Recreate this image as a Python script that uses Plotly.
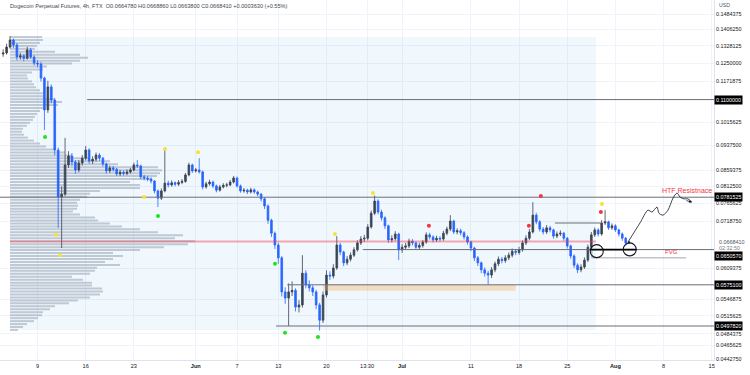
import math
import numpy as np
import pandas as pd
import plotly.graph_objects as go

# ---------------- data ----------------
candle_start = "2022-05-04 00:00"   # 12h candles
opens = [0.1290,0.1295,0.1322,0.1355,0.1332,0.1277,0.1282,0.1271,0.1309,0.1277,
 0.1250,0.1246,0.1186,0.1061,0.1150,0.1098,0.0922,0.0782,0.0790,0.0875,
 0.0903,0.0884,0.0860,0.0881,0.0896,0.0922,0.0887,0.0893,0.0906,0.0896,
 0.0878,0.0857,0.0866,0.0862,0.0848,0.0853,0.0849,0.0854,0.0860,0.0875,
 0.0872,0.0839,0.0836,0.0833,0.0827,0.0799,0.0779,0.0799,0.0821,0.0816,
 0.0822,0.0818,0.0823,0.0826,0.0845,0.0875,0.0857,0.0860,0.0854,0.0810,
 0.0819,0.0824,0.0813,0.0801,0.0810,0.0815,0.0816,0.0824,0.0836,0.0813,
 0.0799,0.0801,0.0796,0.0802,0.0796,0.0790,0.0777,0.0758,0.0721,0.0689,
 0.0661,0.0632,0.0561,0.0549,0.0561,0.0564,0.0532,0.0536,0.0599,0.0575,
 0.0569,0.0561,0.0536,0.0508,0.0555,0.0595,0.0593,0.0610,0.0661,0.0645,
 0.0621,0.0629,0.0638,0.0650,0.0666,0.0675,0.0677,0.0704,0.0739,0.0771,
 0.0742,0.0727,0.0707,0.0673,0.0676,0.0687,0.0650,0.0656,0.0659,0.0670,
 0.0666,0.0656,0.0660,0.0668,0.0685,0.0680,0.0673,0.0677,0.0675,0.0689,
 0.0699,0.0719,0.0692,0.0695,0.0690,0.0680,0.0668,0.0654,0.0632,0.0621,
 0.0606,0.0599,0.0595,0.0606,0.0619,0.0629,0.0626,0.0632,0.0638,0.0647,
 0.0644,0.0650,0.0666,0.0677,0.0692,0.0734,0.0717,0.0699,0.0692,0.0702,
 0.0697,0.0682,0.0687,0.0689,0.0677,0.0659,0.0636,0.0616,0.0606,0.0612,
 0.0627,0.0656,0.0685,0.0697,0.0687,0.0714,0.0717,0.0702,0.0707,0.0697,
 0.0687,0.0677,0.0666]
highs = [0.1312,0.1338,0.1374,0.1362,0.1340,0.1296,0.1290,0.1323,0.1318,0.1285,
 0.1262,0.1255,0.1192,0.1175,0.1160,0.1105,0.0930,0.0812,0.0962,0.0918,
 0.0912,0.0890,0.0890,0.0906,0.0935,0.0928,0.0902,0.0914,0.0912,0.0900,
 0.0882,0.0873,0.0872,0.0866,0.0860,0.0858,0.0861,0.0866,0.0882,0.0890,
 0.0876,0.0845,0.0842,0.0838,0.0830,0.0803,0.0806,0.0922,0.0828,0.0829,
 0.0826,0.0830,0.0833,0.0851,0.0882,0.0879,0.0866,0.0896,0.0858,0.0825,
 0.0831,0.0828,0.0817,0.0816,0.0821,0.0822,0.0830,0.0842,0.0840,0.0817,
 0.0807,0.0805,0.0808,0.0806,0.0800,0.0793,0.0781,0.0762,0.0725,0.0693,
 0.0666,0.0636,0.0570,0.0578,0.0582,0.0568,0.0545,0.0638,0.0605,0.0584,
 0.0574,0.0565,0.0540,0.0562,0.0605,0.0603,0.0618,0.0682,0.0666,0.0648,
 0.0636,0.0644,0.0656,0.0672,0.0682,0.0685,0.0711,0.0746,0.0786,0.0776,
 0.0748,0.0731,0.0710,0.0684,0.0694,0.0690,0.0663,0.0666,0.0676,0.0675,
 0.0669,0.0666,0.0673,0.0691,0.0690,0.0684,0.0683,0.0682,0.0695,0.0705,
 0.0734,0.0722,0.0701,0.0700,0.0694,0.0684,0.0671,0.0657,0.0636,0.0624,
 0.0611,0.0604,0.0612,0.0624,0.0635,0.0634,0.0638,0.0644,0.0653,0.0652,
 0.0657,0.0672,0.0684,0.0699,0.0768,0.0740,0.0721,0.0704,0.0709,0.0707,
 0.0700,0.0693,0.0696,0.0692,0.0680,0.0662,0.0640,0.0620,0.0618,0.0633,
 0.0662,0.0692,0.0703,0.0701,0.0721,0.0747,0.0720,0.0713,0.0711,0.0700,
 0.0691,0.0680,0.06689]
lows = [0.1278,0.1288,0.1315,0.1318,0.1262,0.1265,0.1258,0.1265,0.1268,0.1240,
 0.1232,0.1172,0.0989,0.1050,0.1085,0.0905,0.0702,0.0654,0.0785,0.0866,
 0.0872,0.0848,0.0853,0.0873,0.0889,0.0879,0.0878,0.0886,0.0888,0.0870,
 0.0849,0.0851,0.0855,0.0842,0.0842,0.0843,0.0844,0.0849,0.0856,0.0866,
 0.0832,0.0829,0.0826,0.0820,0.0792,0.0755,0.0774,0.0795,0.0809,0.0811,
 0.0812,0.0813,0.0818,0.0822,0.0841,0.0851,0.0852,0.0849,0.0803,0.0805,
 0.0814,0.0807,0.0795,0.0797,0.0806,0.0809,0.0812,0.0820,0.0808,0.0794,
 0.0794,0.0790,0.0792,0.0791,0.0784,0.0770,0.0750,0.0712,0.0680,0.0652,
 0.0619,0.0552,0.0538,0.04978,0.0553,0.0524,0.0522,0.0531,0.0568,0.0562,
 0.0553,0.0528,0.0490,0.0503,0.0550,0.0585,0.0588,0.0606,0.0638,0.0614,
 0.0616,0.0624,0.0634,0.0646,0.0661,0.0668,0.0672,0.0700,0.0734,0.0736,
 0.0720,0.0699,0.0666,0.0667,0.0671,0.0627,0.0643,0.0650,0.0654,0.0660,
 0.0650,0.0650,0.0655,0.0664,0.0674,0.0667,0.0668,0.0669,0.0671,0.0684,
 0.0694,0.0687,0.0686,0.0684,0.0674,0.0662,0.0647,0.0625,0.0614,0.0599,
 0.0592,0.0575,0.0589,0.0601,0.0614,0.0620,0.0621,0.0627,0.0633,0.0638,
 0.0639,0.0646,0.0661,0.0672,0.0688,0.0711,0.0693,0.0686,0.0687,0.0691,
 0.0676,0.0677,0.0682,0.0671,0.0653,0.0630,0.0610,0.0599,0.0601,0.0608,
 0.0623,0.0652,0.0680,0.0681,0.0683,0.0709,0.0697,0.0697,0.0692,0.0681,
 0.0671,0.0660,0.06638]
closes = [0.1295,0.1322,0.1355,0.1332,0.1277,0.1282,0.1271,0.1309,0.1277,0.1250,
 0.1246,0.1186,0.1061,0.1150,0.1098,0.0922,0.0782,0.0790,0.0875,0.0903,
 0.0884,0.0860,0.0881,0.0896,0.0922,0.0887,0.0893,0.0906,0.0896,0.0878,
 0.0857,0.0866,0.0862,0.0848,0.0853,0.0849,0.0854,0.0860,0.0875,0.0872,
 0.0839,0.0836,0.0833,0.0827,0.0799,0.0779,0.0799,0.0821,0.0816,0.0822,
 0.0818,0.0823,0.0826,0.0845,0.0875,0.0857,0.0860,0.0854,0.0810,0.0819,
 0.0824,0.0813,0.0801,0.0810,0.0815,0.0816,0.0824,0.0836,0.0813,0.0799,
 0.0801,0.0796,0.0802,0.0796,0.0790,0.0777,0.0758,0.0721,0.0689,0.0661,
 0.0632,0.0561,0.0549,0.0561,0.0564,0.0532,0.0536,0.0599,0.0575,0.0569,
 0.0561,0.0536,0.0508,0.0555,0.0595,0.0593,0.0610,0.0661,0.0645,0.0621,
 0.0629,0.0638,0.0650,0.0666,0.0675,0.0677,0.0704,0.0739,0.0771,0.0742,
 0.0727,0.0707,0.0673,0.0676,0.0687,0.0650,0.0656,0.0659,0.0670,0.0666,
 0.0656,0.0660,0.0668,0.0685,0.0680,0.0673,0.0677,0.0675,0.0689,0.0699,
 0.0719,0.0692,0.0695,0.0690,0.0680,0.0668,0.0654,0.0632,0.0621,0.0606,
 0.0599,0.0595,0.0606,0.0619,0.0629,0.0626,0.0632,0.0638,0.0647,0.0644,
 0.0650,0.0666,0.0677,0.0692,0.0734,0.0717,0.0699,0.0692,0.0702,0.0697,
 0.0682,0.0687,0.0689,0.0677,0.0659,0.0636,0.0616,0.0606,0.0612,0.0627,
 0.0656,0.0685,0.0697,0.0687,0.0714,0.0717,0.0702,0.0707,0.0697,0.0687,
 0.0677,0.0666,0.06684]

# visible volume profile (top row -> bottom row)
vp_top_price = 0.13696
vp_bottom_price = 0.04909
vp_volumes = [32,33,30,27,25,45,70,78,70,62,
 37,33,22,17,18,22,24,26,30,33,
 33,45,52,48,35,30,27,25,23,20,
 17,13,12,14,18,24,30,36,45,55,
 62,80,100,108,148,152,150,147,140,120,
 130,130,90,80,77,70,67,68,67,63,
 70,85,88,100,112,130,148,173,165,185,
 178,154,130,103,113,103,95,110,87,85,
 80,62,73,82,82,92,93,90,80,68,
 59,45,40,33,32,28,24,17,13,8]
poc_price = 0.0669
vp_range_dates = ["2022-05-05 00:00", "2022-07-29 04:00"]

# key levels
level_prices = [0.11, 0.0781525, 0.065057, 0.05751, 0.049782]
level_labels = ["0.1100000", "0.0781525", "0.0650570", "0.0575100", "0.0497820"]
level_starts = ["2022-05-16 05:00", "2022-05-03 13:00", "2022-06-25 07:00",
                "2022-06-14 07:00", "2022-06-12 16:00"]
range_end = "2022-08-15 08:00"
range_start = "2022-05-03 13:00"

prev_high_price = 0.0714
prev_high_dates = ["2022-07-23 05:00", "2022-07-30 00:00"]
fvg_price = 0.0632
fvg_dates = ["2022-07-28 14:00", "2022-08-11 07:00"]
support_seg_dates = ["2022-07-28 07:00", "2022-08-04 02:00"]
demand_dates = ["2022-06-19 12:00", "2022-07-17 12:00"]
demand_prices = [0.0563, 0.05751]

yellow_dates = ["2022-05-11 16:30", "2022-05-12 06:30", "2022-05-24 11:30", "2022-05-27 12:45",
                "2022-06-01 08:00", "2022-06-21 05:45", "2022-06-26 18:15", "2022-07-30 01:10"]
yellow_prices = [0.0685, 0.0638, 0.0782, 0.0925, 0.0915, 0.0687, 0.0793, 0.0763]
green_dates = ["2022-05-10 02:10", "2022-05-26 12:15", "2022-06-12 12:30",
               "2022-06-13 23:20", "2022-06-18 18:30"]
green_prices = [0.0965, 0.0732, 0.0619, 0.0486, 0.0479]
red_dates = ["2022-07-04 21:20", "2022-07-19 10:05", "2022-07-21 04:00", "2022-07-29 21:20"]
red_prices = [0.0707, 0.0707, 0.0785, 0.0742]

circle_dates = ["2022-07-29 07:00", "2022-08-03 02:00"]
circle_prices = [0.0647, 0.0651]

proj_dates = ["2022-08-02 20:00", "2022-08-04 13:40", "2022-08-05 17:45", "2022-08-06 07:40",
              "2022-08-07 01:00", "2022-08-07 08:00", "2022-08-07 22:00", "2022-08-08 15:30",
              "2022-08-09 09:00", "2022-08-09 23:00", "2022-08-10 09:20", "2022-08-10 23:20",
              "2022-08-11 13:00", "2022-08-12 03:00"]
proj_prices = [0.0668, 0.0714, 0.0747, 0.0742, 0.0755, 0.0739, 0.0734, 0.0747,
               0.0779, 0.0793, 0.0782, 0.0777, 0.0777, 0.0768]

price_ticks = [0.1484375, 0.140625, 0.1328125, 0.125, 0.1171875, 0.1015625, 0.09375,
               0.0859375, 0.08125, 0.0765625, 0.071875, 0.0609375, 0.0546875,
               0.0515625, 0.0484375, 0.0465625, 0.044275]
date_ticks = ["2022-05-09", "2022-05-16", "2022-05-23", "2022-06-01", "2022-06-07",
              "2022-06-13", "2022-06-20", "2022-06-25 21:30", "2022-07-01", "2022-07-11",
              "2022-07-18", "2022-07-25", "2022-08-01", "2022-08-08", "2022-08-15"]
date_tick_text = ["9", "16", "23", "<b>Jun</b>", "7", "13", "20", "13:30", "<b>Jul</b>",
                  "11", "18", "25", "<b>Aug</b>", "8", "15"]

header = ("Dogecoin Perpetual Futures, 4h, FTX  O0.0664780 H0.0668860 "
          "L0.0663800 C0.0668410 +0.0003630 (+0.55%)")

# ---------------- figure ----------------
FONT = "Liberation Sans, Arial, sans-serif"
TXT = "#131722"
fig = go.Figure()

# volume profile rows (base subplot, drawn beneath everything on x2)
row_prices = np.geomspace(vp_top_price, vp_bottom_price, len(vp_volumes))
vx, vy = [], []
for p, v in zip(row_prices, vp_volumes):
    vx += [0, v, None]
    vy += [p, p, None]
fig.add_trace(go.Scatter(x=vx, y=vy, mode="lines", xaxis="x", yaxis="y",
                         line=dict(color="rgba(140,144,155,0.45)", width=2.0),
                         hoverinfo="skip"))

# light blue profile range box
fig.add_trace(go.Scatter(
    x=[vp_range_dates[0], vp_range_dates[1], vp_range_dates[1], vp_range_dates[0], vp_range_dates[0]],
    y=[vp_bottom_price, vp_bottom_price, vp_top_price, vp_top_price, vp_bottom_price],
    mode="lines", fill="toself", fillcolor="rgba(33,150,243,0.065)",
    line=dict(width=0), xaxis="x2", yaxis="y", hoverinfo="skip"))

# demand (orange) box
fig.add_trace(go.Scatter(
    x=[demand_dates[0], demand_dates[1], demand_dates[1], demand_dates[0], demand_dates[0]],
    y=[demand_prices[0], demand_prices[0], demand_prices[1], demand_prices[1], demand_prices[0]],
    mode="lines", fill="toself", fillcolor="rgba(242,175,95,0.38)",
    line=dict(width=0), xaxis="x2", yaxis="y", hoverinfo="skip"))

# POC line
fig.add_trace(go.Scatter(x=vp_range_dates, y=[poc_price, poc_price], mode="lines",
                         line=dict(color="rgba(242,54,69,0.42)", width=2),
                         xaxis="x2", yaxis="y", hoverinfo="skip"))

# key horizontal levels
lx, ly = [], []
for p, s in zip(level_prices, level_starts):
    lx += [s, range_end, None]
    ly += [p, p, None]
fig.add_trace(go.Scatter(x=lx, y=ly, mode="lines", line=dict(color="#6a6d78", width=1),
                         xaxis="x2", yaxis="y", hoverinfo="skip"))

# previous high marker line
fig.add_trace(go.Scatter(x=prev_high_dates, y=[prev_high_price, prev_high_price], mode="lines",
                         line=dict(color="#6a6d78", width=1), xaxis="x2", yaxis="y",
                         hoverinfo="skip"))
# FVG outline
fig.add_trace(go.Scatter(x=[fvg_dates[0], fvg_dates[0], fvg_dates[1]],
                         y=[level_prices[2], fvg_price, fvg_price], mode="lines",
                         line=dict(color="#a3a6af", width=1), xaxis="x2", yaxis="y",
                         hoverinfo="skip"))
# support segment (bold)
fig.add_trace(go.Scatter(x=support_seg_dates, y=[level_prices[2], level_prices[2]], mode="lines",
                         line=dict(color="#000000", width=1.6), xaxis="x2", yaxis="y",
                         hoverinfo="skip"))

# candles
times = pd.date_range(candle_start, periods=len(closes), freq="12h")
fig.add_trace(go.Candlestick(
    x=times, open=opens, high=highs, low=lows, close=closes, xaxis="x2", yaxis="y",
    increasing=dict(line=dict(color="#3c3f4a", width=0.8), fillcolor="#3c3f4a"),
    decreasing=dict(line=dict(color="#2962ff", width=0.8), fillcolor="#2962ff"),
    whiskerwidth=0, hoverinfo="skip"))

# swing dots
for d, p, c in [(yellow_dates, yellow_prices, "#f7e23b"),
                (green_dates, green_prices, "#1be51b"),
                (red_dates, red_prices, "#f23645")]:
    fig.add_trace(go.Scatter(x=d, y=p, mode="markers", xaxis="x2", yaxis="y",
                             marker=dict(color=c, size=4, line=dict(width=0)),
                             hoverinfo="skip"))

# circles
fig.add_trace(go.Scatter(x=circle_dates, y=circle_prices, mode="markers", xaxis="x2", yaxis="y",
                         marker=dict(symbol="circle-open", size=13, color="#131722",
                                     line=dict(width=1.1, color="#131722")),
                         hoverinfo="skip"))

# projection path
fig.add_trace(go.Scatter(x=proj_dates, y=proj_prices, mode="lines", xaxis="x2", yaxis="y",
                         line=dict(color="#131722", width=0.8, shape="spline", smoothing=0.8),
                         hoverinfo="skip"))

L10 = math.log10
annotations = []
annotations.append(dict(x=proj_dates[-1], y=L10(proj_prices[-1]), xref="x2", yref="y",
                        ax=-7, ay=-2, showarrow=True, arrowhead=2, arrowsize=0.7,
                        arrowwidth=0.8, arrowcolor="#131722", text=""))
annotations.append(dict(x=8 / 714, y=1 - 6 / 360, xref="paper", yref="paper",
                        xanchor="left", yanchor="middle", showarrow=False, text=header,
                        font=dict(size=5.6, color="#434651", family=FONT)))
annotations.append(dict(x=1, y=1 - 5 / 360, xref="paper", yref="paper", xanchor="left",
                        xshift=3, yanchor="middle", showarrow=False, text="USD",
                        font=dict(size=5.2, color="#50535e", family=FONT)))
annotations.append(dict(x="2022-08-07 12:00", y=L10(0.0799), xref="x2", yref="y",
                        xanchor="left", yanchor="middle", showarrow=False,
                        text="HTF Resistnace", font=dict(size=7, color="#f23645", family=FONT)))
annotations.append(dict(x="2022-08-09 05:00", y=L10(0.0645), xref="x2", yref="y",
                        xanchor="center", yanchor="middle", showarrow=False,
                        text="FVG", font=dict(size=6, color="#f23645", family=FONT)))
# level boxes on price scale
label_prices = list(level_prices)
label_prices[2] = 0.0636  # shifted below current-price label as on the chart
for p, t in zip(label_prices, level_labels):
    annotations.append(dict(x=1, y=L10(p), xref="paper", yref="y", xanchor="left",
                            yanchor="middle", showarrow=False, text=t, bgcolor="#000000",
                            borderpad=1, font=dict(size=5.4, color="#ffffff", family=FONT)))
annotations.append(dict(x=1, y=L10(closes[-1]), xref="paper", yref="y", xanchor="left",
                        xshift=3, yanchor="middle", showarrow=False, text="0.0668410",
                        font=dict(size=5.4, color="#50535e", family=FONT)))
annotations.append(dict(x=1, y=L10(0.0654), xref="paper", yref="y", xanchor="left",
                        xshift=3, yanchor="middle", showarrow=False, text="02:32:50",
                        font=dict(size=5.4, color="#787b86", family=FONT)))

y_lo, y_hi = 0.044196, 0.155897
fig.update_layout(
    template="none",
    width=750, height=375,
    margin=dict(l=0, r=36, t=0, b=15),
    paper_bgcolor="#ffffff", plot_bgcolor="#ffffff",
    showlegend=False,
    font=dict(family=FONT, color=TXT),
    xaxis=dict(range=[-10, 704], visible=False, showgrid=False, zeroline=False,
               fixedrange=True),
    xaxis2=dict(type="date", overlaying="x", anchor="y", side="bottom",
                range=[range_start, range_end], tickvals=date_ticks, ticktext=date_tick_text,
                tickfont=dict(size=5.6, color=TXT, family=FONT), ticks="", showgrid=True,
                gridcolor="#f0f3fa", gridwidth=1, showline=True, linecolor="#e0e3eb",
                zeroline=False, rangeslider=dict(visible=False), automargin=False),
    yaxis=dict(type="log", side="right", range=[L10(y_lo), L10(y_hi)],
               tickvals=price_ticks, ticktext=[f"{v:.7f}" for v in price_ticks],
               tickfont=dict(size=5.4, color=TXT, family=FONT), ticks="",
               showgrid=True, gridcolor="#f0f3fa", gridwidth=1, showline=True,
               linecolor="#e0e3eb", zeroline=False, automargin=False),
    annotations=annotations,
)

fig.write_html("out.html", config={"displayModeBar": False},
               post_script="document.body.style.margin='0';document.body.style.padding='0';")
